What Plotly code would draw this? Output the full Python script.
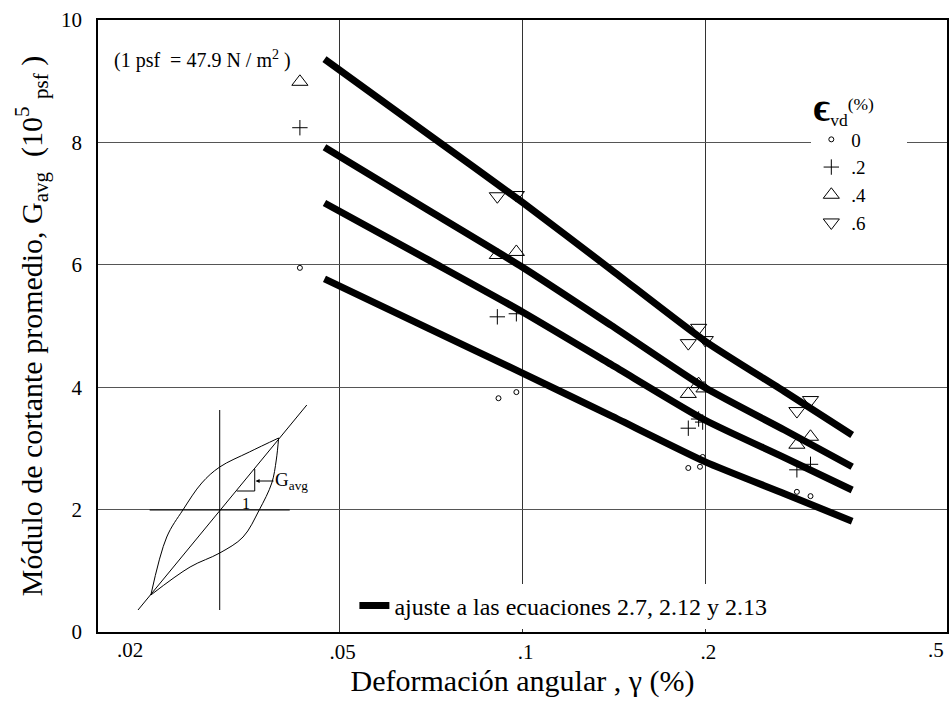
import plotly.graph_objects as go
import math

# ---------------- data ----------------
x_tickvals = [0.02, 0.05, 0.1, 0.2, 0.5]
x_ticktext = ["", ".05", ".1", ".2", ""]
y_tickvals = [0, 2, 4, 6, 8, 10]

fit_x = [0.0472, 0.07, 0.1, 0.14, 0.2, 0.27, 0.349]
fit_e0 = [5.77, 4.96, 4.23, 3.53, 2.78, 2.26, 1.81]
fit_e2 = [7.01, 6.08, 5.23, 4.37, 3.46, 2.85, 2.32]
fit_e4 = [7.92, 6.89, 5.96, 5.01, 3.99, 3.30, 2.70]
fit_e6 = [9.36, 8.13, 7.02, 5.92, 4.75, 3.93, 3.22]

e0_x = [0.043, 0.0913, 0.0977, 0.1875, 0.196, 0.198, 0.283, 0.298]
e0_y = [5.95, 3.82, 3.92, 2.68, 2.70, 2.86, 2.29, 2.22]
e2_x = [0.043, 0.0909, 0.0977, 0.1875, 0.195, 0.198, 0.283, 0.298]
e2_y = [8.24, 5.15, 5.20, 3.33, 3.48, 3.43, 2.65, 2.74]
e4_x = [0.043, 0.0909, 0.0977, 0.1875, 0.195, 0.199, 0.283, 0.298]
e4_y = [8.99, 6.16, 6.21, 3.89, 4.05, 3.98, 3.06, 3.19]
e6_x = [0.0909, 0.0977, 0.1875, 0.195, 0.2, 0.283, 0.298]
e6_y = [7.12, 7.14, 4.72, 4.97, 4.77, 3.61, 3.79]

series_names = ["0", ".2", ".4", ".6"]

# inset schematic (hysteresis loop), normalised units
loop_upper_x = [-0.767, -0.59, -0.41, -0.2, 0.0, 0.33, 0.656]
loop_upper_y = [-0.85, -0.27, 0.0, 0.27, 0.43, 0.58, 0.72]
loop_lower_x = [-0.767, -0.33, 0.0, 0.26, 0.44, 0.58, 0.63, 0.656]
loop_lower_y = [-0.85, -0.57, -0.43, -0.27, 0.0, 0.27, 0.5, 0.72]
diag_x = [-0.91, 0.97]
diag_y = [-1.0, 1.05]
vaxis_x = [0, 0]
vaxis_y = [1.0, -1.0]
haxis_x = [-0.78, 0.78]
haxis_y = [0, 0]
slope_x = [0.19, 0.39, 0.39]
slope_y = [0.19, 0.19, 0.41]

FONT = "Liberation Serif, Times New Roman, serif"

fig = go.Figure()

# fitted curves
for i, fy in enumerate([fit_e0, fit_e2, fit_e4, fit_e6]):
    fig.add_trace(go.Scatter(
        x=fit_x, y=fy, mode="lines",
        line=dict(color="black", width=7, shape="spline", smoothing=0.6),
        name="ajuste a las ecuaciones 2.7, 2.12 y 2.13",
        showlegend=(i == 0), legend="legend2", hoverinfo="skip"))

# data points
fig.add_trace(go.Scatter(x=e0_x, y=e0_y, mode="markers", name=series_names[0],
                         marker=dict(symbol="circle-open", size=5, color="black",
                                     line=dict(width=1, color="black")), legend="legend"))
fig.add_trace(go.Scatter(x=e2_x, y=e2_y, mode="markers", name=series_names[1],
                         marker=dict(symbol="cross-thin-open", size=11, color="black",
                                     line=dict(width=1, color="black")), legend="legend"))
fig.add_trace(go.Scatter(x=e4_x, y=e4_y, mode="markers", name=series_names[2],
                         marker=dict(symbol="triangle-up-open", size=14, color="black",
                                     line=dict(width=1, color="black")), legend="legend"))
fig.add_trace(go.Scatter(x=e6_x, y=e6_y, mode="markers", name=series_names[3],
                         marker=dict(symbol="triangle-down-open", size=14, color="black",
                                     line=dict(width=1, color="black")), legend="legend"))

# inset schematic on its own hidden axes
for xs, ys, shp in [(loop_upper_x, loop_upper_y, "spline"), (loop_lower_x, loop_lower_y, "spline"),
                    (diag_x, diag_y, "linear"), (vaxis_x, vaxis_y, "linear"),
                    (haxis_x, haxis_y, "linear"), (slope_x, slope_y, "linear")]:
    fig.add_trace(go.Scatter(x=xs, y=ys, mode="lines", xaxis="x2", yaxis="y2",
                             line=dict(color="black", width=1, shape=shp),
                             showlegend=False, hoverinfo="skip", cliponaxis=False))

# layout geometry
L, R, T, B = 98, 0, 20, 90
W, H = 949, 722
pw = W - L - R
ph = H - T - B

def px_x(p):
    return (p - L) / pw

def px_y(p):
    return (H - B - p) / ph

fig.update_layout(
    width=W, height=H,
    margin=dict(l=L, r=R, t=T, b=B),
    paper_bgcolor="white",
    plot_bgcolor="rgba(0,0,0,0)",
    font=dict(family=FONT, color="black", size=21),
    xaxis=dict(type="log", range=[math.log10(0.02), math.log10(0.5)],
               tickvals=x_tickvals, ticktext=x_ticktext,
               showgrid=True, gridcolor="#333", gridwidth=1,
               showline=True, linecolor="black", linewidth=1.5, mirror=True,
               ticks="", tickfont=dict(size=21, family=FONT), zeroline=False, ticklabelshift=3,
               title=dict(text="Deformación angular , γ (%)", font=dict(size=30, family=FONT), standoff=0)),
    yaxis=dict(range=[0, 10], tickvals=y_tickvals,
               showgrid=True, gridcolor="#555", gridwidth=1,
               showline=True, linecolor="black", linewidth=1.5, mirror=True,
               ticks="", tickfont=dict(size=21, family=FONT), zeroline=False, ticklabelstandoff=10,
               title=dict(text="Módulo de cortante promedio, G<sub>avg</sub>  (10<sup>5</sup> <sub>psf</sub> )",
                          font=dict(size=30, family=FONT), standoff=10)),
    xaxis2=dict(domain=[px_x(121), px_x(319)], range=[-1.1, 1.1], anchor="y2", visible=False),
    yaxis2=dict(domain=[px_y(620), px_y(400)], range=[-1.1, 1.1], anchor="x2", visible=False),
    legend=dict(x=px_x(813), y=px_y(88), xanchor="left", yanchor="top",
                bgcolor="white", borderwidth=0, font=dict(size=19, family=FONT),
                tracegroupgap=0, itemsizing="trace",
                title=dict(text="<span style='font-size:40px'><b>ϵ</b></span><sub>vd</sub><sup>(%)</sup>&nbsp;&nbsp;&nbsp;&nbsp;&nbsp;",
                           font=dict(size=25, family=FONT))),
    legend2=dict(x=px_x(355), y=px_y(606), xanchor="left", yanchor="middle",
                 bgcolor="white", borderwidth=0, font=dict(size=24, family=FONT)),
    showlegend=True,
)

fig.add_annotation(text="(1 psf  = 47.9 N / m<sup>2</sup> )", xref="paper", yref="paper",
                   x=px_x(112), y=px_y(60), xanchor="left", yanchor="middle",
                   showarrow=False, font=dict(size=20, family=FONT))
fig.add_annotation(text=".02", xref="paper", yref="paper", x=px_x(130), y=px_y(650),
                   xanchor="center", yanchor="middle", showarrow=False, font=dict(size=21, family=FONT))
fig.add_annotation(text=".5", xref="paper", yref="paper", x=px_x(948), y=px_y(650),
                   xanchor="right", yanchor="middle", showarrow=False, font=dict(size=21, family=FONT))
fig.add_annotation(text="1", xref="x2", yref="y2", x=0.29, y=0.07,
                   showarrow=False, font=dict(size=16, family=FONT))
fig.add_annotation(text="G<sub>avg</sub>", xref="x2", yref="y2", x=0.4, y=0.29,
                   ax=0.8, ay=0.29, axref="x2", ayref="y2",
                   showarrow=True, arrowhead=2, arrowsize=0.8, arrowwidth=1, arrowcolor="black",
                   font=dict(size=19, family=FONT))

fig.write_html("out.html")
